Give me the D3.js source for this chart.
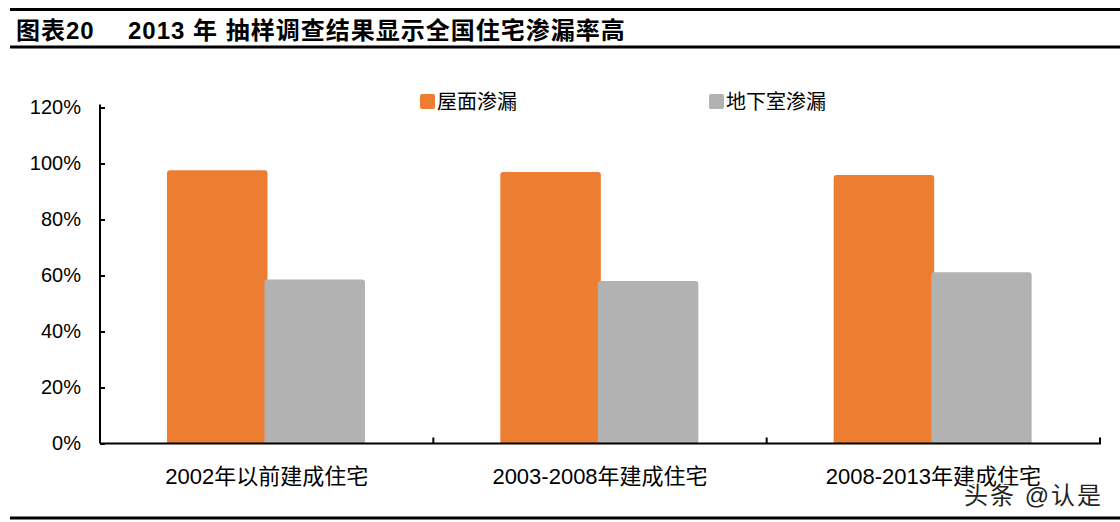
<!DOCTYPE html>
<html>
<head>
<meta charset="utf-8">
<script src="https://cdn.jsdelivr.net/npm/d3@7"></script>
<style>
  body { margin: 0; background: #fff; }
  svg { font-family: "Liberation Sans", Arial, "Noto Sans CJK SC", sans-serif; }
</style>
</head>
<body>
<div id="chart"></div>
<script>
// data
var categories = ["2002年以前建成住宅", "2003-2008年建成住宅", "2008-2013年建成住宅"];
var seriesNames = ["屋面渗漏", "地下室渗漏"];
var roofLeak = [97.6, 97.0, 95.9];
var basementLeak = [58.6, 58.0, 61.2];
var yTicks = [0, 20, 40, 60, 80, 100, 120];
var colors = ["#ED7D31", "#B2B2B2"];

var W = 1120, H = 522;
var svg = d3.select("#chart").append("svg").attr("width", W).attr("height", H);

// header rules and title
svg.append("rect").attr("x", 10).attr("y", 8).attr("width", W - 10).attr("height", 3).attr("fill", "#000");
svg.append("rect").attr("x", 10).attr("y", 45.5).attr("width", W - 10).attr("height", 3).attr("fill", "#000");
svg.append("rect").attr("x", 10).attr("y", 516.5).attr("width", W - 10).attr("height", 3).attr("fill", "#000");

var title = svg.append("text").attr("x", 16).attr("y", 39).attr("font-size", 24).attr("font-weight", "bold")
  .attr("fill", "#000")
title.append("tspan").attr("letter-spacing", 1).text("图表20")
title.append("tspan").attr("x", 128).attr("letter-spacing", 1).text("2013 年 抽样调查结果显示全国住宅渗漏率高")

var x0 = d3.scaleBand().domain(categories).range([100, 1100]).padding(0);
var x1 = d3.scaleBand().domain(seriesNames).range([67, 262]).padding(0);
var y = d3.scaleLinear().domain([0, 120]).range([443.5, 107.5]);

// y axis
var yAxis = d3.axisLeft(y).tickValues(yTicks).tickFormat(function(d){ return d + "%" })
  .tickSizeInner(-5).tickSizeOuter(0).tickPadding(19);
var gy = svg.append("g").attr("transform", "translate(100,0)").call(yAxis);
gy.select(".domain").attr("stroke", "#000").attr("stroke-width", 2).attr("d", "M0," + (y(120) - 3) + "V" + y(0));
gy.selectAll(".tick line").attr("stroke", "#000").attr("stroke-width", 2);
gy.selectAll(".tick text").attr("font-size", 20).attr("fill", "#000")
  .attr("font-family", "Liberation Sans, Arial, sans-serif");

function topRounded(x, yTop, w, h, r) {
  return "M" + x + "," + (yTop + h) + "V" + (yTop + r) + "Q" + x + "," + yTop + " " + (x + r) + "," + yTop +
    "H" + (x + w - r) + "Q" + (x + w) + "," + yTop + " " + (x + w) + "," + (yTop + r) + "V" + (yTop + h) + "Z";
}

// bars
var seriesValues = [roofLeak, basementLeak];
seriesNames.forEach(function(s, si) {
  svg.append("g").selectAll("path").data(categories).enter().append("path")
    .attr("fill", colors[si])
    .attr("d", function(c, i) {
      var v = seriesValues[si][i];
      var bx = x0(c) + x1(s);
      return topRounded(bx, y(v), x1.bandwidth() + 3, y(0) - y(v), 3);
    })
})

// x axis
var gx = svg.append("g");
gx.append("line").attr("x1", 100).attr("x2", 1101).attr("y1", y(0)).attr("y2", y(0))
  .attr("stroke", "#000").attr("stroke-width", 2);
gx.selectAll(".xtick").data(categories).enter().append("line").attr("class", "xtick")
  .attr("x1", function(c){ return x0(c) + x0.bandwidth() }).attr("x2", function(c){ return x0(c) + x0.bandwidth() })
  .attr("y1", y(0)).attr("y2", y(0) - 6).attr("stroke", "#000").attr("stroke-width", 2);
gx.selectAll(".xlabel").data(categories).enter().append("text").attr("class", "xlabel")
  .attr("x", function(c){ return x0(c) + x0.bandwidth() / 2 }).attr("y", 484)
  .attr("text-anchor", "middle").attr("font-size", 22).attr("fill", "#000")
  .text(function(c){ return c });

// legend
var legendX = [420, 709];
var lg = svg.append("g").selectAll("g").data(seriesNames).enter().append("g")
  .attr("transform", function(d, i){ return "translate(" + legendX[i] + ",94)" });
lg.append("rect").attr("width", 15).attr("height", 15).attr("rx", 2).attr("fill", function(d, i){ return colors[i] });
lg.append("text").attr("x", 17).attr("y", 15).attr("font-size", 20).attr("fill", "#000").text(function(d){ return d });

// watermark
svg.append("text").attr("x", 1103).attr("y", 504).attr("text-anchor", "end").attr("font-size", 24)
  .attr("letter-spacing", 2)
  .attr("fill", "#222").attr("stroke", "#fff").attr("stroke-width", 2.5).attr("paint-order", "stroke")
  .text("头条 @认是");
</script>
</body>
</html>
